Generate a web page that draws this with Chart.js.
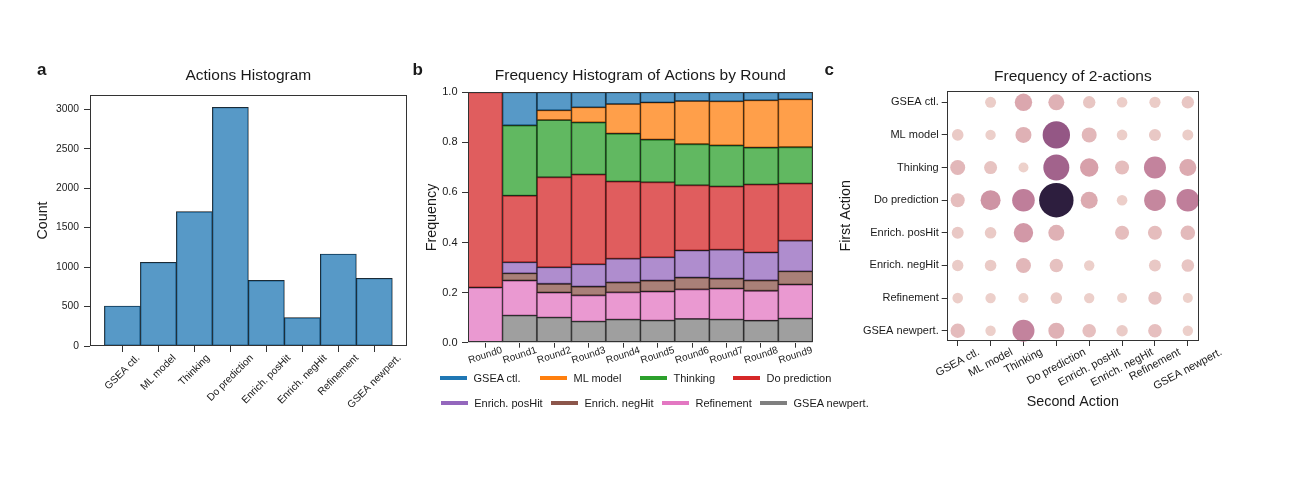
<!DOCTYPE html>
<html>
<head>
<meta charset="utf-8">
<title>Actions</title>
<script src="https://cdn.jsdelivr.net/npm/chart.js@4.4.1/dist/chart.umd.min.js"></script>
<style>
  body { margin: 0; background: #fff; }
  #page { position: relative; width: 1290px; height: 490px; overflow: hidden;
          font-family: "Liberation Sans", Arial, Helvetica, sans-serif; color: #1a1a1a; }
  #page canvas { position: absolute; }
  .tag { position: absolute; font-weight: bold; font-size: 17px; line-height: 1; }
  .lg { position: absolute; height: 12px; font-size: 11px; line-height: 12px; white-space: nowrap;
        display: flex; align-items: center; }
  .lg i { display: inline-block; width: 27px; height: 4px; margin-right: 6.5px; }
</style>
</head>
<body>
<div id="page">
  <canvas id="histA" width="430" height="400" style="left:0;top:40px"></canvas>
  <canvas id="roundsB" width="440" height="400" style="left:400px;top:40px"></canvas>
  <canvas id="pairsC" width="470" height="400" style="left:820px;top:40px"></canvas>
  <div class="tag" style="left:37px;top:60.5px">a</div>
  <div class="tag" style="left:412.5px;top:60.5px">b</div>
  <div class="tag" style="left:824.5px;top:60.5px">c</div>
  <div id="legendB"></div>
</div>
<script>
// ---- data ----
const actions = ['GSEA ctl.', 'ML model', 'Thinking', 'Do prediction',
                 'Enrich. posHit', 'Enrich. negHit', 'Refinement', 'GSEA newpert.'];
const actionCounts = [507, 1061, 1702, 3025, 832, 359, 1166, 858];
const countTicks = [0, 500, 1000, 1500, 2000, 2500, 3000];

const rounds = ['Round0', 'Round1', 'Round2', 'Round3', 'Round4',
                'Round5', 'Round6', 'Round7', 'Round8', 'Round9'];
// share of each action within a round
const freqGseaCtl  = [0, .132, .072, .060, .047, .041, .035, .036, .032, .028];
const freqMlModel  = [0, 0, .039, .060, .118, .148, .172, .176, .189, .191];
const freqThinking = [0, .281, .228, .208, .191, .170, .164, .164, .147, .145];
const freqDoPred   = [.78, .266, .360, .359, .309, .300, .261, .253, .272, .229];
const freqPosHit   = [0, .044, .066, .089, .094, .093, .108, .115, .111, .122];
const freqNegHit   = [0, .029, .035, .035, .040, .044, .047, .040, .042, .053];
const freqRefine   = [.22, .139, .099, .104, .108, .115, .118, .123, .119, .135];
const freqNewpert  = [0, .109, .101, .085, .093, .089, .095, .093, .088, .097];

// pairCounts[first][second]
const pairCounts = [
  [0,   33,  233, 181,  69,  24,  38,  69],
  [48,  19,  181, 724,  147, 24,  58,  33],
  [147, 86,  10,  642,  272, 115, 432, 217],
  [115, 339, 461, 1199, 217, 24,  412, 461],
  [58,  48,  313, 181,  0,   115, 115, 134],
  [43,  48,  147, 97,   19,  0,   58,  75],
  [24,  19,  10,  48,   19,  10,  97,  10],
  [128, 19,  432, 181,  103, 43,  103, 19]
];

// ---- styling ----
const FONT = '"Liberation Sans", Arial, Helvetica, sans-serif';
const INK = '#1a1a1a';
const SPINE = '#333333';
const tab10 = ['31,119,180', '255,127,14', '44,160,44', '214,39,40',
               '148,103,189', '140,86,75', '227,119,194', '127,127,127'];
const cubehelix = ['#edd1cb', '#daa4ac', '#bc7a98', '#945785', '#61396a', '#2d1e3e'];

Chart.defaults.font.family = FONT;
Chart.defaults.color = INK;
Chart.defaults.animation = false;

function shade(t) {
  const p = Math.max(0, Math.min(1, t)) * (cubehelix.length - 1);
  const i = Math.min(Math.floor(p), cubehelix.length - 2);
  const f = p - i;
  const a = cubehelix[i], b = cubehelix[i + 1];
  const ch = k => {
    const x = parseInt(a.substr(1 + 2 * k, 2), 16), y = parseInt(b.substr(1 + 2 * k, 2), 16);
    return Math.round(x + (y - x) * f);
  };
  return `rgb(${ch(0)},${ch(1)},${ch(2)})`;
}

// matplotlib-like box around the axes
const frame = {
  id: 'frame',
  afterDatasetsDraw(chart) {
    const { ctx, chartArea: a } = chart;
    ctx.save();
    ctx.strokeStyle = SPINE;
    ctx.lineWidth = 1;
    ctx.strokeRect(Math.round(a.left) + 0.5, Math.round(a.top) + 0.5,
                   Math.round(a.right - a.left) - 1, Math.round(a.bottom - a.top) - 1);
    ctx.restore();
  }
};

// rotated x labels centred under their tick (matplotlib rotation with ha='center')
const slantTicks = {
  id: 'slantTicks',
  afterDraw(chart, args, opts) {
    const scale = chart.scales.x;
    const ctx = chart.ctx;
    const a = opts.rotation * Math.PI / 180;
    ctx.save();
    ctx.font = opts.size + 'px ' + FONT;
    ctx.fillStyle = INK;
    ctx.textAlign = 'center';
    ctx.textBaseline = 'middle';
    scale.ticks.forEach((tick, i) => {
      const text = String(tick.label);
      const w = ctx.measureText(text).width;
      const boxH = w * Math.sin(a) + opts.size * 0.7 * Math.cos(a);
      ctx.save();
      ctx.translate(scale.getPixelForValue(tick.value, i), scale.top + opts.offset + boxH / 2);
      ctx.rotate(-a);
      ctx.fillText(text, 0, 0);
      ctx.restore();
    });
    ctx.restore();
  }
};

function axisGrid(len) {
  return { offset: false, drawOnChartArea: false, drawTicks: true, tickLength: len,
           tickColor: SPINE, tickWidth: 1 };
}
function titleOpts(text, top, bottom) {
  return { display: true, text, fullSize: false, color: INK,
           font: { size: 15.5, weight: 'normal' }, padding: { top, bottom } };
}
const axisTitleFont = { size: 14.3, weight: 'normal' };

// ---- a: actions histogram ----
new Chart(document.getElementById('histA'), {
  type: 'bar',
  data: {
    datasets: [{
      data: actionCounts.map((v, i) => ({ x: i, y: v })),
      backgroundColor: 'rgba(31,119,180,0.75)',
      borderColor: INK,
      borderWidth: 0.7,
      borderSkipped: false,
      barPercentage: 1,
      categoryPercentage: 1
    }]
  },
  options: {
    responsive: false,
    devicePixelRatio: 1,
    layout: { padding: { left: 30, right: 23.3, top: 10, bottom: 14 } },
    plugins: {
      legend: { display: false },
      title: titleOpts('Actions Histogram', 16.7, 9.7),
      slantTicks: { rotation: 45, size: 10.3, offset: 8 }
    },
    scales: {
      x: {
        type: 'linear', bounds: 'data', offset: false, min: -0.9, max: 7.9,
        afterBuildTicks: s => { s.ticks = actions.map((_, i) => ({ value: i })); },
        afterFit: s => { s.height = 80; },
        ticks: { display: false, callback: v => actions[v] },
        grid: axisGrid(6),
        border: { display: false }
      },
      y: {
        bounds: 'data', min: 0, max: 3181,
        afterBuildTicks: s => { s.ticks = countTicks.map(v => ({ value: v })); },
        afterFit: s => { s.width = 60; },
        ticks: { padding: 5, font: { size: 10.3 }, color: INK, callback: v => String(v) },
        grid: axisGrid(6),
        border: { display: false },
        title: { display: true, text: 'Count', font: axisTitleFont, color: INK, padding: { top: 4.4, bottom: 0 } }
      }
    }
  },
  plugins: [frame, slantTicks]
});

// ---- b: frequency by round ----
const roundShares = [freqGseaCtl, freqMlModel, freqThinking, freqDoPred,
                     freqPosHit, freqNegHit, freqRefine, freqNewpert];
const chartB = new Chart(document.getElementById('roundsB'), {
  type: 'bar',
  data: {
    labels: rounds,
    // first dataset sits at the bottom of the stack
    datasets: actions.map((name, i) => ({
      label: name,
      data: roundShares[i],
      backgroundColor: `rgba(${tab10[i]},0.75)`,
      borderColor: INK,
      borderWidth: 0.7,
      borderSkipped: false,
      barPercentage: 1,
      categoryPercentage: 1
    })).reverse()
  },
  options: {
    responsive: false,
    devicePixelRatio: 1,
    layout: { padding: { left: 15, right: 27.3, top: 10, bottom: 67.3 } },
    plugins: {
      legend: { display: false },
      title: titleOpts('Frequency Histogram of Actions by Round', 16.4, 7.3),
      slantTicks: { rotation: 18, size: 10, offset: 4 }
    },
    scales: {
      x: {
        stacked: true,
        afterFit: s => { s.height = 30; },
        ticks: { display: false },
        grid: axisGrid(5),
        border: { display: false }
      },
      y: {
        stacked: true, min: 0, max: 1,
        afterFit: s => { s.width = 53; },
        ticks: { stepSize: 0.2, padding: 4.5, font: { size: 11 }, color: INK, callback: v => v.toFixed(1) },
        grid: axisGrid(6),
        border: { display: false },
        title: { display: true, text: 'Frequency', font: axisTitleFont, color: INK, padding: { top: 8.1, bottom: 0 } }
      }
    }
  },
  plugins: [frame, slantTicks]
});

// legend for b, built from the chart's datasets
(function () {
  const rowTops = [372.3, 397.3];
  const lefts = [[440, 540, 640, 733], [440.7, 551, 662, 760]];
  const host = document.getElementById('legendB');
  const byName = {};
  chartB.data.datasets.forEach(d => { byName[d.label] = d; });
  actions.forEach((name, i) => {
    const row = Math.floor(i / 4), col = i % 4;
    const item = document.createElement('div');
    item.className = 'lg';
    item.style.left = lefts[row][col] + 'px';
    item.style.top = rowTops[row] + 'px';
    const swatch = document.createElement('i');
    swatch.style.background = byName[name].backgroundColor.replace(/,0\.75\)$/, ')').replace('rgba', 'rgb');
    item.appendChild(swatch);
    item.appendChild(document.createTextNode(name));
    host.appendChild(item);
  });
})();

// ---- c: frequency of 2-actions ----
const nonZero = pairCounts.flat().filter(v => v > 0);
const vMin = Math.min(...nonZero), vMax = Math.max(...nonZero);
const rMin = 5, rMax = 17.2;
const level = v => (v - vMin) / (vMax - vMin);
const bubbleRadius = v => Math.sqrt(rMin * rMin + level(v) * (rMax * rMax - rMin * rMin));
const pairPoints = [];
pairCounts.forEach((row, first) => row.forEach((v, second) => {
  if (v > 0) pairPoints.push({ x: second, y: first, r: bubbleRadius(v), count: v });
}));

new Chart(document.getElementById('pairsC'), {
  type: 'bubble',
  data: {
    datasets: [{
      data: pairPoints,
      backgroundColor: c => shade(level(c.raw.count)),
      hoverBackgroundColor: c => shade(level(c.raw.count)),
      borderWidth: 0,
      hoverBorderWidth: 0,
      clip: false
    }]
  },
  options: {
    responsive: false,
    devicePixelRatio: 1,
    layout: { padding: { left: 10, right: 91, top: 10, bottom: 29 } },
    plugins: {
      legend: { display: false },
      tooltip: { enabled: false },
      title: titleOpts('Frequency of 2-actions', 17.4, 4.7),
      slantTicks: { rotation: 28, size: 11, offset: 7 }
    },
    scales: {
      x: {
        type: 'linear', bounds: 'data', min: -0.335, max: 7.34,
        afterBuildTicks: s => { s.ticks = actions.map((_, i) => ({ value: i })); },
        afterFit: s => { s.height = 70; },
        ticks: { display: false, callback: v => actions[v] },
        grid: axisGrid(5),
        border: { display: false },
        title: { display: true, text: 'Second Action', font: axisTitleFont, color: INK, padding: { top: 0, bottom: 0.7 } }
      },
      y: {
        type: 'linear', bounds: 'data', reverse: true, min: -0.355, max: 7.315,
        afterBuildTicks: s => { s.ticks = actions.map((_, i) => ({ value: i })); },
        afterFit: s => { s.width = 116.7; },
        ticks: { padding: 3, font: { size: 11 }, color: INK, callback: v => actions[v] },
        grid: axisGrid(5),
        border: { display: false },
        title: { display: true, text: 'First Action', font: axisTitleFont, color: INK, padding: { top: 7.4, bottom: 0 } }
      }
    }
  },
  plugins: [frame, slantTicks]
});
</script>
</body>
</html>
